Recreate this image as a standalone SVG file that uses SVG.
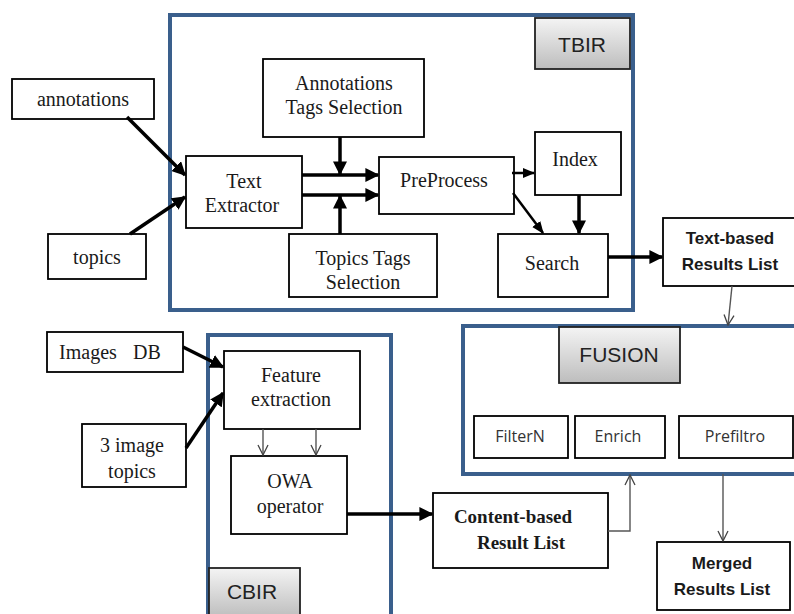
<svg xmlns="http://www.w3.org/2000/svg" width="794" height="614" viewBox="0 0 794 614">
<defs>
<linearGradient id="lg" x1="0" y1="0" x2="0" y2="1">
<stop offset="0" stop-color="#f4f4f4"/><stop offset="1" stop-color="#bdbdbd"/>
</linearGradient>
<marker id="ah" viewBox="0 0 10 10" refX="9" refY="5" markerWidth="4" markerHeight="4" orient="auto" markerUnits="strokeWidth"><path d="M0,0 L10,5 L0,10 z" fill="#000"/></marker>
<marker id="ahs" viewBox="0 0 10 10" refX="9" refY="5" markerWidth="5" markerHeight="5" orient="auto" markerUnits="strokeWidth"><path d="M0,1 L10,5 L0,9 z" fill="#000"/></marker>
<marker id="oa" viewBox="0 0 12 12" refX="11" refY="6" markerWidth="12" markerHeight="12" orient="auto" markerUnits="userSpaceOnUse"><path d="M1,1 L11,6 L1,11" fill="none" stroke="#444" stroke-width="1.3"/></marker>
</defs>
<style>
.bg{fill:#fff}
.group{fill:none;stroke:#3a5f8c;stroke-width:4}
.box{fill:#fff;stroke:#000;stroke-width:1.8}
.lab{fill:url(#lg);stroke:#222;stroke-width:1.8}
.s{font-family:"Liberation Serif",serif;font-size:20px;fill:#1a1a1a;text-anchor:middle}
.sb{font-family:"Liberation Serif",serif;font-size:19px;font-weight:bold;fill:#1a1a1a;text-anchor:middle}
.ss{font-family:"Open Sans","Liberation Sans",sans-serif;font-size:16px;fill:#333;text-anchor:middle}
.sbold{font-family:"Liberation Sans",sans-serif;font-size:17px;font-weight:bold;fill:#1a1a1a;text-anchor:middle}
.tl{font-family:"Liberation Sans",sans-serif;font-size:21px;fill:#222;text-anchor:middle}
.thick{stroke:#000;stroke-width:3.5;fill:none;marker-end:url(#ah)}
.med{stroke:#000;stroke-width:2.5;fill:none;marker-end:url(#ahs)}
.thin{stroke:#555;stroke-width:1.4;fill:none;marker-end:url(#oa)}
</style>
<rect class="bg" x="0" y="0" width="794" height="614"/>

<g id="TBIR">
<rect class="group" x="170" y="15" width="463" height="295"/>
<rect class="lab" x="535" y="18" width="95" height="51"/>
<text class="tl" x="582" y="52">TBIR</text>
</g>
<g id="CBIR">
<rect class="group" x="208" y="335" width="183" height="285"/>
<rect class="lab" x="209" y="568" width="91" height="50"/>
<text class="tl" x="252" y="599">CBIR</text>
</g>
<g id="FUSION">
<rect class="group" x="463" y="326" width="340" height="148"/>
<rect class="lab" x="559" y="327" width="121" height="56"/>
<text class="tl" x="619" y="362">FUSION</text>
</g>

<g id="annotations"><rect class="box" x="12" y="79" width="142" height="40"/><text class="s" x="83" y="106">annotations</text></g>
<g id="topics"><rect class="box" x="48" y="234" width="98" height="45"/><text class="s" x="97" y="264">topics</text></g>
<g id="text-extractor"><rect class="box" x="186" y="156" width="116" height="72"/><text class="s" x="244" y="188">Text</text><text class="s" x="242" y="212">Extractor</text></g>
<g id="annotations-tags"><rect class="box" x="263" y="59" width="161" height="78"/><text class="s" x="344" y="90">Annotations</text><text class="s" x="344" y="114">Tags Selection</text></g>
<g id="topics-tags"><rect class="box" x="289" y="234" width="148" height="63"/><text class="s" x="363" y="265">Topics Tags</text><text class="s" x="363" y="289">Selection</text></g>
<g id="preprocess"><rect class="box" x="379" y="157" width="135" height="57"/><text class="s" x="444" y="187">PreProcess</text></g>
<g id="index"><rect class="box" x="535" y="132" width="86" height="63"/><text class="s" x="575" y="166">Index</text></g>
<g id="search"><rect class="box" x="498" y="234" width="110" height="63"/><text class="s" x="552" y="270">Search</text></g>
<g id="text-based"><rect class="box" x="663" y="218" width="132" height="68"/><text class="sbold" x="730" y="244">Text-based</text><text class="sbold" x="730" y="270">Results List</text></g>

<g id="images-db"><rect class="box" x="47" y="332" width="136" height="40"/><text class="s" x="88" y="359">Images</text><text class="s" x="147" y="359">DB</text></g>
<g id="image-topics"><rect class="box" x="82" y="424" width="104" height="63"/><text class="s" x="132" y="452">3  image</text><text class="s" x="132" y="478">topics</text></g>
<g id="feature-extraction"><rect class="box" x="224" y="351" width="136" height="78"/><text class="s" x="291" y="382">Feature</text><text class="s" x="291" y="406">extraction</text></g>
<g id="owa"><rect class="box" x="231" y="456" width="116" height="78"/><text class="s" x="290" y="488">OWA</text><text class="s" x="290" y="513">operator</text></g>
<g id="content-based"><rect class="box" x="433" y="493" width="175" height="75"/><text class="sb" x="513" y="523">Content-based</text><text class="sb" x="521" y="549">Result List</text></g>

<g id="filtern"><rect class="box" x="474" y="416" width="94" height="42"/><text class="ss" x="520" y="442">FilterN</text></g>
<g id="enrich"><rect class="box" x="575" y="416" width="90" height="42"/><text class="ss" x="618" y="442">Enrich</text></g>
<g id="prefiltro"><rect class="box" x="679" y="416" width="114" height="42"/><text class="ss" x="735" y="442">Prefiltro</text></g>
<g id="merged"><rect class="box" x="657" y="542" width="133" height="68"/><text class="sbold" x="722" y="569">Merged</text><text class="sbold" x="722" y="595">Results List</text></g>

<g id="connectors">
<line class="thick" x1="127" y1="117" x2="185" y2="175"/>
<line class="thick" x1="130" y1="234" x2="185" y2="197"/>
<line class="thick" x1="302" y1="175" x2="378" y2="175"/>
<line class="thick" x1="302" y1="195" x2="378" y2="195"/>
<line class="thick" x1="340" y1="137" x2="340" y2="174"/>
<line class="thick" x1="340" y1="234" x2="340" y2="196"/>
<line class="med" x1="512" y1="173" x2="534" y2="173"/>
<line class="med" x1="513" y1="193" x2="543" y2="233"/>
<line class="thick" x1="579" y1="195" x2="579" y2="233"/>
<line class="thick" x1="608" y1="257" x2="662" y2="257"/>
<line class="thick" x1="183" y1="347" x2="223" y2="367"/>
<line class="thick" x1="186" y1="448" x2="223" y2="393"/>
<line class="thin" x1="263" y1="429" x2="263" y2="455"/>
<line class="thin" x1="316" y1="429" x2="316" y2="455"/>
<line class="thick" x1="347" y1="514" x2="432" y2="514"/>
<line class="thin" x1="732" y1="286" x2="728" y2="325"/>
<polyline class="thin" points="608,531 630,531 630,475"/>
<line class="thin" x1="723" y1="474" x2="723" y2="541"/>
</g>
</svg>
